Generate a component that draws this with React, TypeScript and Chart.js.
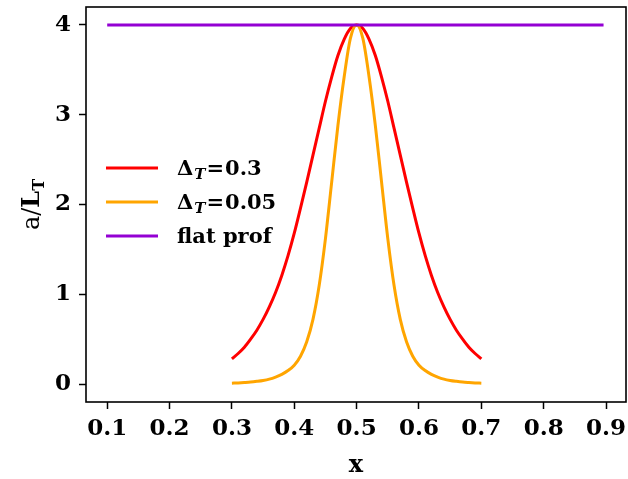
import { useEffect, useRef } from "react";
import { Chart, registerables } from "chart.js";

Chart.register(...registerables);

const X_GRID = [
  0.30, 0.31, 0.32, 0.33, 0.34, 0.35, 0.36, 0.37, 0.38, 0.39,
  0.40, 0.41, 0.42, 0.43, 0.44, 0.45, 0.46, 0.47, 0.48, 0.49,
  0.50, 0.51, 0.52, 0.53, 0.54, 0.55, 0.56, 0.57, 0.58, 0.59,
  0.60, 0.61, 0.62, 0.63, 0.64, 0.65, 0.66, 0.67, 0.68, 0.69, 0.70,
];
const RED_Y = [
  0.28, 0.34, 0.41, 0.50, 0.60, 0.72, 0.86, 1.02, 1.21, 1.43,
  1.68, 1.96, 2.25, 2.55, 2.85, 3.15, 3.42, 3.66, 3.84, 3.96,
  4.00, 3.96, 3.84, 3.66, 3.42, 3.15, 2.85, 2.55, 2.25, 1.96,
  1.68, 1.43, 1.21, 1.02, 0.86, 0.72, 0.60, 0.50, 0.41, 0.34, 0.28,
];
const ORANGE_Y = [
  0.010, 0.013, 0.017, 0.022, 0.030, 0.040, 0.055, 0.078, 0.108, 0.150,
  0.21, 0.31, 0.47, 0.72, 1.10, 1.62, 2.25, 2.88, 3.42, 3.85,
  4.00, 3.85, 3.42, 2.88, 2.25, 1.62, 1.10, 0.72, 0.47, 0.31,
  0.21, 0.150, 0.108, 0.078, 0.055, 0.040, 0.030, 0.022, 0.017, 0.013, 0.010,
];
const FLAT_X = [0.1, 0.896];
const FLAT_Y = [4, 4];
const X_TICKS = [0.1, 0.2, 0.3, 0.4, 0.5, 0.6, 0.7, 0.8, 0.9];
const Y_TICKS = [0, 1, 2, 3, 4];
const LEGEND_ITEMS = [
  { main: "Δ", sub: "T", rest: "0.3", color: "#ff0000" },
  { main: "Δ", sub: "T", rest: "0.05", color: "#ffa500" },
  { main: "flat prof", sub: "", rest: "", color: "#9400d3" },
];

const SERIF = "'DejaVu Serif', serif";

const decorPlugin = {
  id: "decor",
  afterDraw(chart: any) {
    const { ctx, chartArea } = chart;
    ctx.save();
    // frame
    ctx.strokeStyle = "#000";
    ctx.lineWidth = 1.6;
    ctx.strokeRect(chartArea.left, chartArea.top, chartArea.right - chartArea.left, chartArea.bottom - chartArea.top);

    // legend
    const lx0 = 106, lx1 = 158, tx = 177;
    const ys = [168, 202, 236];
    LEGEND_ITEMS.forEach((it, i) => {
      const y = ys[i];
      ctx.strokeStyle = it.color;
      ctx.lineWidth = 3;
      ctx.beginPath();
      ctx.moveTo(lx0, y);
      ctx.lineTo(lx1, y);
      ctx.stroke();
      ctx.fillStyle = "#000";
      ctx.textBaseline = "alphabetic";
      ctx.textAlign = "left";
      const base = y + 7;
      let x = tx;
      ctx.font = `bold 21px ${SERIF}`;
      ctx.fillText(it.main, x, base);
      x += ctx.measureText(it.main).width;
      if (it.sub) {
        ctx.font = `italic bold 15px ${SERIF}`;
        ctx.fillText(it.sub, x + 1, base + 4);
        x += ctx.measureText(it.sub).width + 2;
        ctx.font = `bold 21px ${SERIF}`;
        ctx.fillText("=", x, base);
        x += ctx.measureText("=").width + 1;
        ctx.fillText(it.rest, x, base);
      }
    });

    // x title
    ctx.fillStyle = "#000";
    ctx.font = `bold 24px ${SERIF}`;
    ctx.textAlign = "center";
    ctx.textBaseline = "alphabetic";
    ctx.fillText("x", (chartArea.left + chartArea.right) / 2, 472);

    // y title (rotated) a/L_T
    ctx.translate(39, (chartArea.top + chartArea.bottom) / 2);
    ctx.rotate(-Math.PI / 2);
    ctx.textAlign = "left";
    ctx.font = `24px ${SERIF}`;
    const wa = ctx.measureText("a/").width;
    ctx.font = `bold 24px ${SERIF}`;
    const wl = ctx.measureText("L").width;
    ctx.font = `bold 16px ${SERIF}`;
    const wt = ctx.measureText("T").width;
    const total = wa + wl + wt;
    let px = -total / 2;
    ctx.font = `24px ${SERIF}`;
    ctx.fillText("a/", px, 0);
    px += wa;
    ctx.font = `bold 24px ${SERIF}`;
    ctx.fillText("L", px, 0);
    px += wl;
    ctx.font = `bold 16px ${SERIF}`;
    ctx.fillText("T", px, 5);
    ctx.restore();
  },
};

export default function App() {
  const ref = useRef<HTMLCanvasElement | null>(null);

  useEffect(() => {
    document.body.style.margin = "0";
    const canvas = ref.current;
    if (!canvas) return;
    const chart = new Chart(canvas, {
      type: "line",
      data: {
        datasets: [
          {
            label: "ΔT=0.3",
            data: X_GRID.map((x, i) => ({ x, y: RED_Y[i] })),
            borderColor: "#ff0000",
            borderWidth: 3,
            pointRadius: 0,
            cubicInterpolationMode: "monotone",
            order: 2,
          },
          {
            label: "ΔT=0.05",
            data: X_GRID.map((x, i) => ({ x, y: ORANGE_Y[i] })),
            borderColor: "#ffa500",
            borderWidth: 3,
            pointRadius: 0,
            cubicInterpolationMode: "monotone",
            order: 1,
          },
          {
            label: "flat prof",
            data: FLAT_X.map((x, i) => ({ x, y: FLAT_Y[i] })),
            borderColor: "#9400d3",
            borderWidth: 3,
            pointRadius: 0,
            order: 0,
          },
        ],
      },
      options: {
        responsive: false,
        animation: false,
        layout: { padding: { left: 0, top: 7, right: 2, bottom: 0 } },
        plugins: { legend: { display: false }, tooltip: { enabled: false } },
        scales: {
          x: {
            type: "linear",
            min: 0.066,
            max: 0.932,
            afterBuildTicks: (s: any) => {
              s.ticks = X_TICKS.map((v) => ({ value: v }));
            },
            afterFit: (s: any) => {
              s.height = 77;
              s.paddingLeft = 0;
              s.paddingRight = 0;
            },
            border: { display: false },
            grid: {
              drawOnChartArea: false,
              drawTicks: true,
              tickLength: 7,
              tickColor: "#000",
              tickWidth: 1.5,
            },
            ticks: {
              color: "#000",
              padding: 6,
              maxRotation: 0,
              autoSkip: false,
              font: { family: SERIF, weight: "bold", size: 23 },
              callback: (v: any) => Number(v).toFixed(1),
            },
          },
          y: {
            type: "linear",
            min: -0.2,
            max: 4.2,
            afterBuildTicks: (s: any) => {
              s.ticks = Y_TICKS.map((v) => ({ value: v }));
            },
            afterFit: (s: any) => {
              s.width = 86;
              s.paddingTop = 0;
              s.paddingBottom = 0;
            },
            border: { display: false },
            grid: {
              drawOnChartArea: false,
              drawTicks: true,
              tickLength: 7,
              tickColor: "#000",
              tickWidth: 1.5,
            },
            ticks: {
              color: "#000",
              padding: 8,
              autoSkip: false,
              font: { family: SERIF, weight: "bold", size: 23 },
              callback: (v: any) => String(v),
            },
          },
        },
      },
      plugins: [decorPlugin],
    } as any);
    return () => chart.destroy();
  }, []);

  return (
    <div style={{ width: 628, height: 479 }}>
      <canvas ref={ref} width={628} height={479} />
    </div>
  );
}
